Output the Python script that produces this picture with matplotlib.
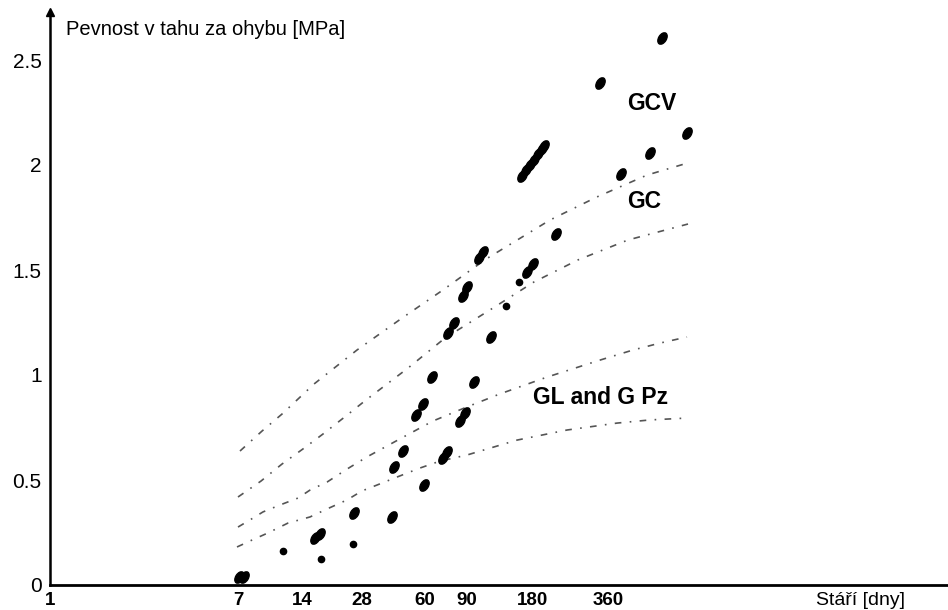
import numpy as np
import matplotlib.pyplot as plt
from matplotlib.markers import MarkerStyle
from matplotlib.transforms import Affine2D

plt.rcParams['font.family'] = ['Liberation Sans', 'DejaVu Sans']

# x axis is a drawn "position" scale (not log/linear in days); ticks sit at these positions
tick_pos = [0, 188, 252, 312, 375, 417, 482, 558]
tick_labels = ['1', '7', '14', '28', '60', '90', '180', '360']

# measured points (position, strength MPa)
big_x = [189, 194, 265, 270, 304, 342, 344, 353, 374, 393, 397, 410, 415, 366, 373,
         382, 424, 398, 404, 441, 413, 417, 477, 483, 429, 433, 506,
         472, 476, 480, 484, 488, 492, 494, 571, 600, 637, 550, 612]
big_y = [0.038, 0.038, 0.224, 0.243, 0.343, 0.324, 0.562, 0.638, 0.476, 0.605, 0.633,
         0.781, 0.819, 0.810, 0.862, 0.990, 0.967, 1.200, 1.248, 1.181, 1.376, 1.419,
         1.490, 1.529, 1.557, 1.586, 1.671,
         1.948, 1.976, 2.000, 2.024, 2.052, 2.076, 2.090, 1.957, 2.057, 2.152, 2.390, 2.605]
small_x = [233, 271, 303, 456, 469]
small_y = [0.162, 0.124, 0.195, 1.329, 1.443]

# fitted curves (dash-dot)
gcv_x = [190, 212, 232, 264, 307, 352, 393, 436, 500, 547, 597, 638]
gcv_y = [0.638, 0.733, 0.814, 0.957, 1.119, 1.271, 1.405, 1.552, 1.738, 1.848, 1.952, 2.010]
gc_x = [188, 211, 232, 253, 273, 296, 316, 358, 395, 440, 484, 528, 578, 627, 638]
gc_y = [0.419, 0.495, 0.576, 0.648, 0.719, 0.805, 0.881, 1.033, 1.176, 1.310, 1.443,
        1.548, 1.643, 1.705, 1.719]
gl_x = [188, 200, 213, 230, 248, 260, 277, 297, 317, 337, 357, 383, 417, 450, 497, 550,
        583, 610, 637]
gl_y = [0.276, 0.310, 0.348, 0.381, 0.414, 0.452, 0.490, 0.552, 0.610, 0.662, 0.714,
        0.781, 0.848, 0.910, 0.990, 1.071, 1.119, 1.152, 1.181]
gpz_x = [187, 202, 218, 238, 260, 277, 297, 312, 327, 347, 370, 390, 417, 467, 517, 567,
         600, 637]
gpz_y = [0.181, 0.214, 0.248, 0.295, 0.324, 0.362, 0.405, 0.448, 0.476, 0.514, 0.557,
         0.590, 0.619, 0.690, 0.738, 0.771, 0.786, 0.795]

fig = plt.figure(figsize=(9.48, 6.10), dpi=100)
ax = fig.add_axes([50 / 948, 25 / 610, 898 / 948, 573 / 610])
ax.set_xlim(0, 898)
ax.set_ylim(0, 573 / 210)

# curves
for cx, cy in [(gcv_x, gcv_y), (gc_x, gc_y), (gl_x, gl_y), (gpz_x, gpz_y)]:
    ax.plot(cx, cy, color='#555555', lw=1.2, dashes=(4, 5, 1, 5))

# points
blob = MarkerStyle('o', transform=Affine2D().scale(1.0, 0.62).rotate_deg(58))
ax.plot(big_x, big_y, ls='none', marker=blob, ms=9, color='black', mec='black')
ax.plot(small_x, small_y, ls='none', marker='o', ms=4.5, color='black')

# curve labels
ax.text(577, 2.295, 'GCV', fontsize=16.5, fontweight='bold', ha='left', va='center')
ax.text(577, 1.824, 'GC', fontsize=16.5, fontweight='bold', ha='left', va='center')
ax.text(483, 0.895, 'GL and G Pz', fontsize=16.5, fontweight='bold', ha='left', va='center')

# axis titles
ax.text(16, 2.643, 'Pevnost v tahu za ohybu [MPa]', fontsize=14.5, ha='left', va='center')
ax.text(811, -0.075, 'Stáří [dny]', fontsize=14, ha='center', va='center', clip_on=False)

# axes styling
for side in ['top', 'right']:
    ax.spines[side].set_visible(False)
ax.spines['left'].set_linewidth(1.8)
ax.spines['bottom'].set_linewidth(2.0)
ax.plot([0], [573 / 210], marker='^', ms=6, color='black', clip_on=False)

ax.set_xticks(tick_pos)
ax.set_xticklabels(tick_labels, fontsize=13.5, fontweight='bold')
ax.set_yticks([0, 0.5, 1, 1.5, 2, 2.5])
ax.set_yticklabels(['0', '0.5', '1', '1.5', '2', '2.5'], fontsize=15)
ax.tick_params(axis='x', length=0, pad=5)
ax.tick_params(axis='y', length=0, pad=6)

fig.savefig('out.png', dpi=100)
